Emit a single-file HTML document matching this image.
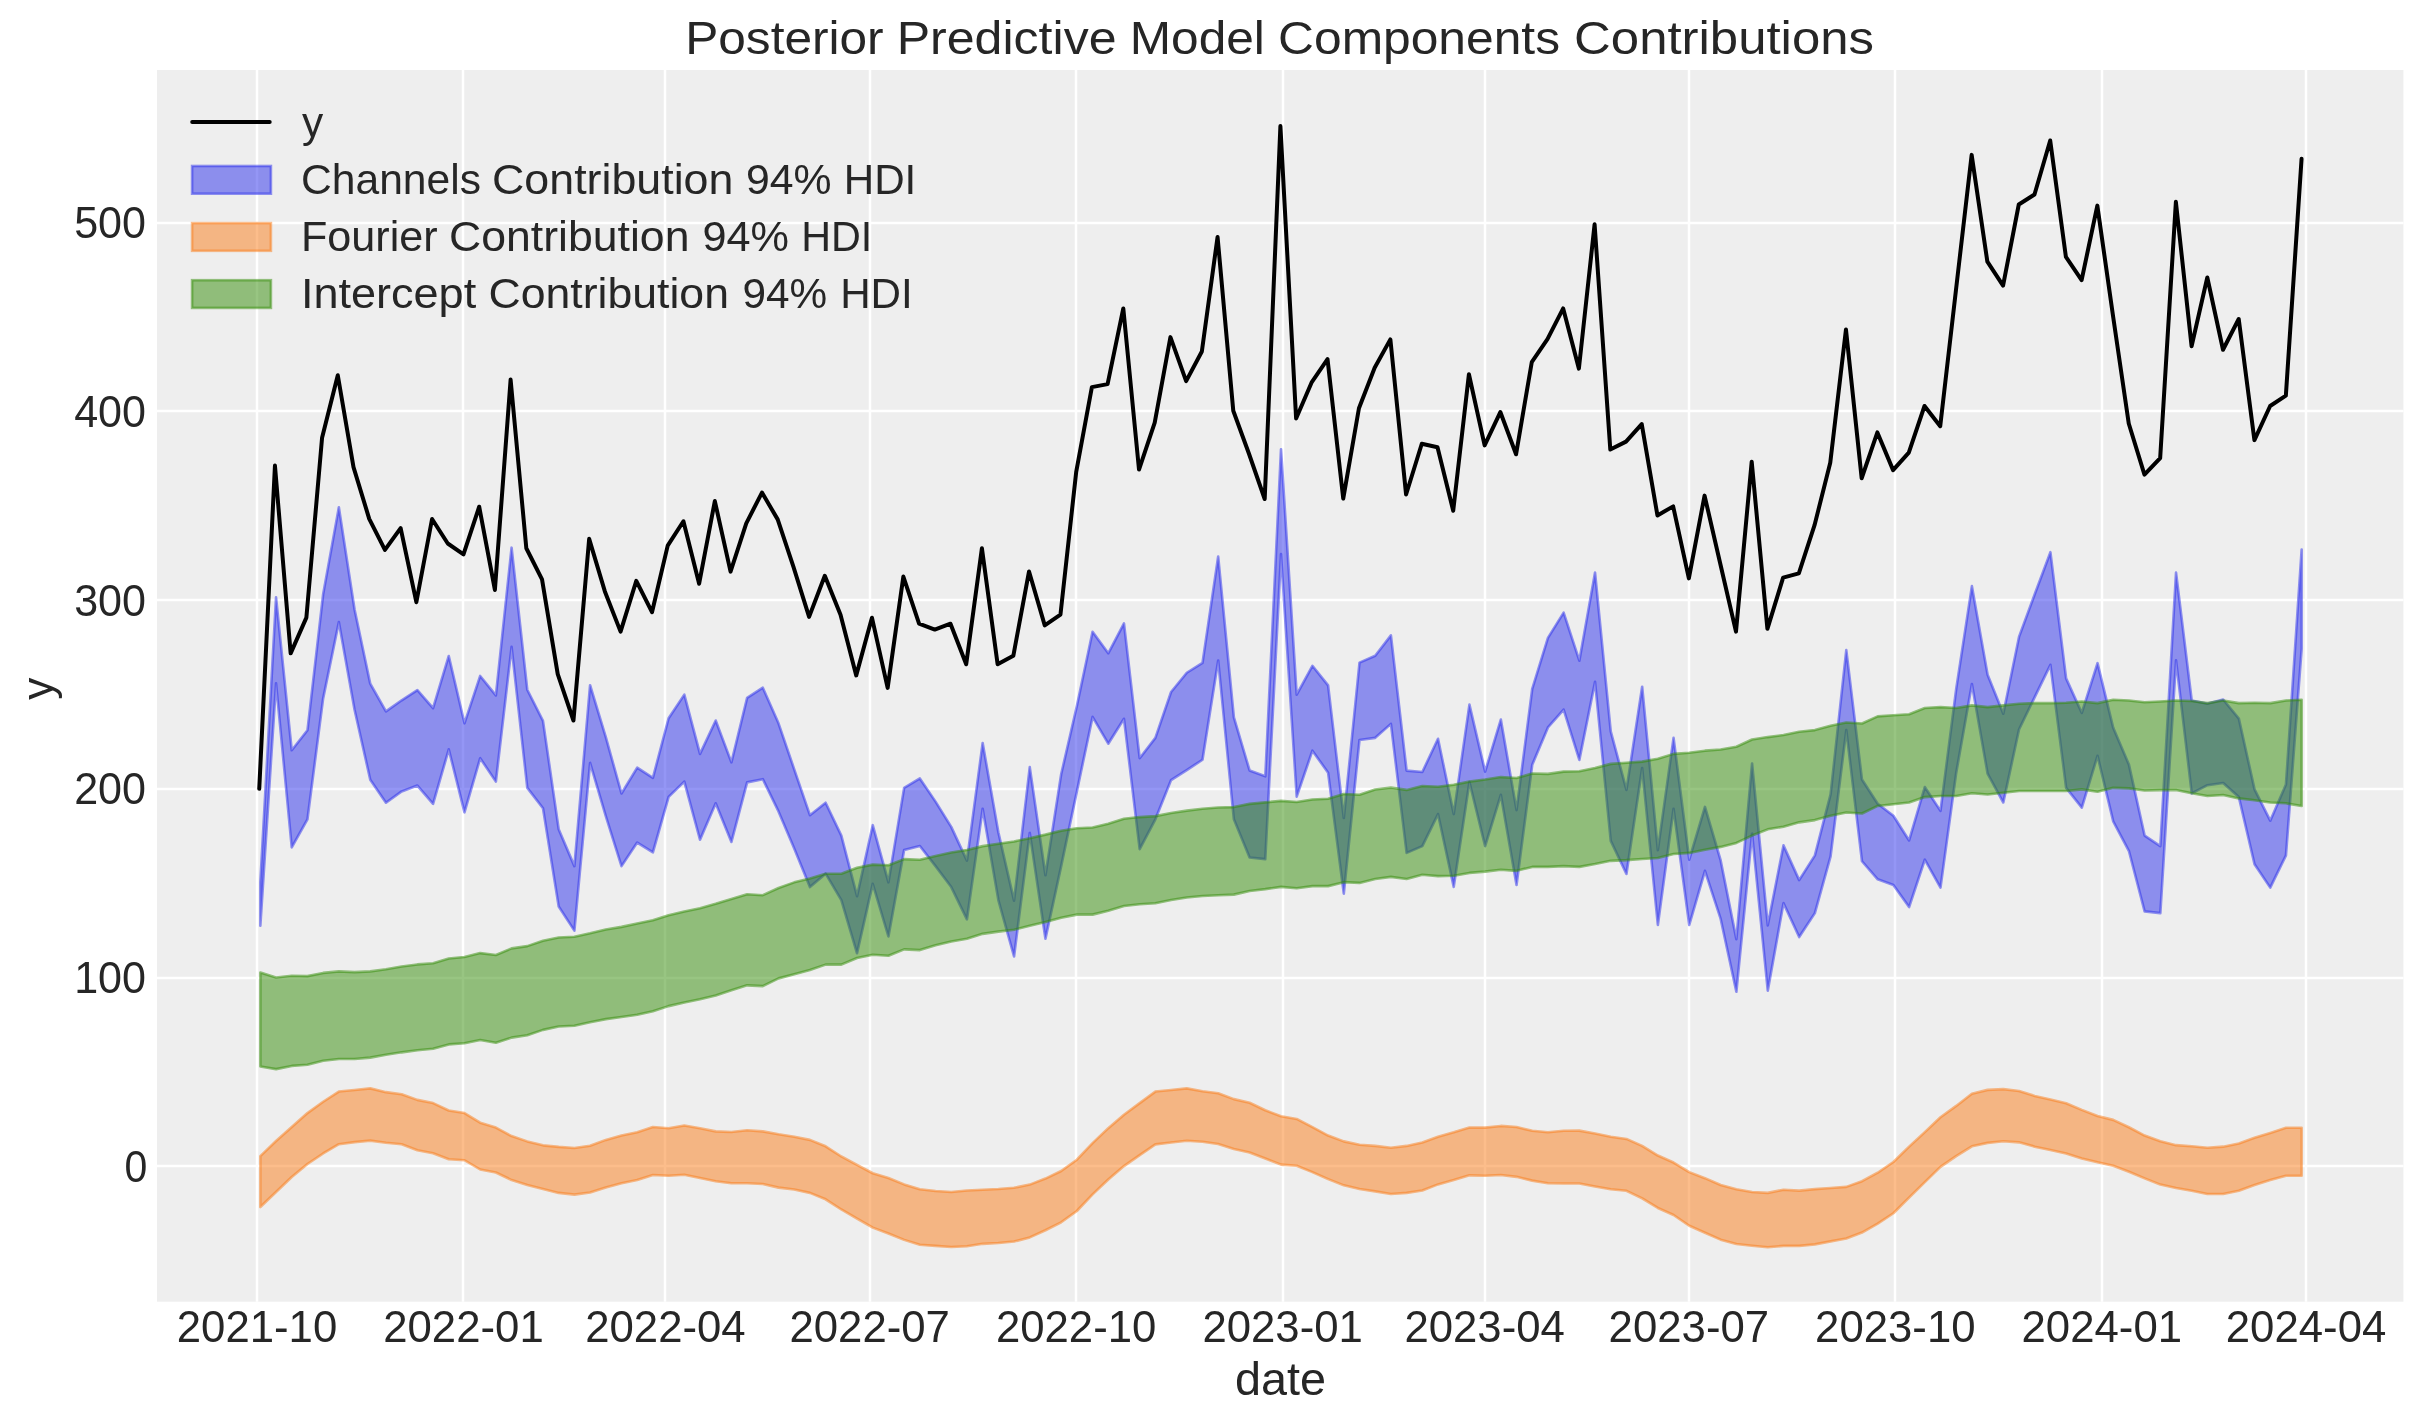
<!DOCTYPE html>
<html><head><meta charset="utf-8"><style>
html,body{margin:0;padding:0;background:#fff;}
svg{display:block;will-change:transform;}
text{font-family:"Liberation Sans", sans-serif;fill:#262626;}
</style></head><body>
<svg width="2423" height="1423" viewBox="0 0 2423 1423">
<rect x="0" y="0" width="2423" height="1423" fill="#ffffff"/>
<rect x="157.0" y="70.0" width="2246.4" height="1231.7" fill="#eeeeee"/>
<g stroke="#ffffff" stroke-width="2.5" fill="none">
<line x1="257" y1="70.0" x2="257" y2="1301.7"/>
<line x1="463" y1="70.0" x2="463" y2="1301.7"/>
<line x1="665" y1="70.0" x2="665" y2="1301.7"/>
<line x1="870" y1="70.0" x2="870" y2="1301.7"/>
<line x1="1076" y1="70.0" x2="1076" y2="1301.7"/>
<line x1="1283" y1="70.0" x2="1283" y2="1301.7"/>
<line x1="1485" y1="70.0" x2="1485" y2="1301.7"/>
<line x1="1689" y1="70.0" x2="1689" y2="1301.7"/>
<line x1="1895" y1="70.0" x2="1895" y2="1301.7"/>
<line x1="2102" y1="70.0" x2="2102" y2="1301.7"/>
<line x1="2306" y1="70.0" x2="2306" y2="1301.7"/>
<line x1="157.0" y1="1166" x2="2403.4" y2="1166"/>
<line x1="157.0" y1="978" x2="2403.4" y2="978"/>
<line x1="157.0" y1="789" x2="2403.4" y2="789"/>
<line x1="157.0" y1="600" x2="2403.4" y2="600"/>
<line x1="157.0" y1="411" x2="2403.4" y2="411"/>
<line x1="157.0" y1="223" x2="2403.4" y2="223"/>
</g>
<polyline points="259.24,788.78 274.95,465.61 290.66,653.32 306.37,617.67 322.08,437.68 337.79,375.24 353.5,467.11 369.22,518.81 384.93,549.94 400.64,528.05 416.35,602.2 432.06,519 447.77,543.52 463.48,554.28 479.19,506.73 494.9,589.93 510.61,379.58 526.32,548.24 542.03,579.37 557.74,674.07 573.45,720.49 589.16,538.81 604.87,591.44 620.58,631.63 636.29,580.88 652,612.19 667.71,545.6 683.42,521.26 699.13,583.71 714.84,501.07 730.55,571.63 746.26,523.34 761.97,492.58 777.68,519.37 793.39,566.73 809.1,616.91 824.81,575.78 840.52,614.65 856.23,675.4 871.94,617.67 887.65,687.85 903.36,576.54 919.07,623.7 934.78,629.55 950.49,623.7 966.2,664.26 981.91,548.24 997.62,664.26 1013.33,655.77 1029.04,571.44 1044.75,625.4 1060.46,614.65 1076.17,472.21 1091.88,387.12 1107.59,384.1 1123.3,308.45 1139.01,469.57 1154.72,422.59 1170.43,337.13 1186.14,381.09 1201.85,351.47 1217.56,236.95 1233.27,410.71 1248.98,453.72 1264.69,499 1280.4,126.02 1296.11,418.44 1311.82,382.03 1327.53,359.2 1343.24,498.62 1358.95,408.25 1374.66,367.69 1390.37,339.39 1406.08,494.47 1421.79,443.72 1437.5,447.31 1453.21,510.7 1468.92,374.29 1484.63,445.42 1500.34,412.03 1516.05,454.29 1531.76,362.22 1547.47,339.2 1563.18,308.45 1578.89,368.63 1594.6,224.31 1610.31,449.57 1626.02,441.65 1641.73,424.1 1657.44,515.41 1673.15,506.36 1688.86,578.42 1704.57,495.6 1720.28,563.71 1735.99,631.63 1751.7,461.64 1767.41,628.8 1783.12,577.67 1798.83,573.33 1814.54,525.22 1830.25,462.78 1845.96,329.58 1861.67,478.25 1877.38,432.4 1893.09,470.13 1908.8,452.59 1924.51,405.99 1940.22,426.18 1955.94,290.34 1971.65,154.88 1987.36,261.66 2003.07,285.62 2018.78,204.5 2034.49,194.5 2050.2,140.54 2065.91,256.95 2081.62,280.15 2097.33,205.63 2113.04,316 2128.75,423.53 2144.46,474.66 2160.17,458.06 2175.88,201.86 2191.59,346.18 2207.3,277.51 2223.01,349.77 2238.72,319.02 2254.43,440.14 2270.14,405.99 2285.85,395.61 2301.56,158.84" fill="none" stroke="#000000" stroke-width="4" stroke-linejoin="round" stroke-linecap="round"/>
<polygon points="260.34,882.36 276.05,597.29 291.75,750.29 307.45,730.3 323.15,594.27 338.86,507.3 354.56,609.55 370.26,683.7 385.96,711.43 401.67,700.3 417.37,690.11 433.07,708.22 448.77,655.96 464.48,723.31 480.18,675.96 495.88,695.39 511.58,547.67 527.29,689.73 542.99,720.86 558.69,829.15 574.39,866.13 590.09,685.21 605.8,737.09 621.5,793.5 637.2,767.65 652.9,777.84 668.61,718.22 684.31,694.64 700.01,753.88 715.71,720.49 731.42,762.37 747.12,697.85 762.82,687.66 778.52,723.31 794.23,769.35 809.93,815.19 825.63,802.74 841.33,835.57 857.04,896.13 872.74,825.19 888.44,882.36 904.14,787.84 919.85,778.4 935.55,801.61 951.25,826.89 966.95,860.66 982.66,742.94 998.36,832.17 1014.06,900.66 1029.76,767.08 1045.46,875.19 1061.17,774.25 1076.87,705.96 1092.57,631.81 1108.27,653.32 1123.98,623.33 1139.68,758.22 1155.38,737.84 1171.08,692 1186.79,672.75 1202.49,662.94 1218.19,556.54 1233.89,717.28 1249.6,770.48 1265.3,776.33 1281,449.19 1296.7,694.64 1312.41,665.77 1328.11,685.39 1343.81,818.02 1359.51,662.57 1375.22,655.77 1390.92,635.4 1406.62,770.67 1422.32,771.99 1438.02,738.79 1453.73,814.06 1469.43,704.64 1485.13,771.61 1500.83,719.54 1516.54,810.1 1532.24,688.79 1547.94,637.85 1563.64,612.57 1579.35,660.68 1595.05,572.58 1610.75,731.43 1626.45,789.91 1642.16,686.71 1657.86,850.09 1673.56,737.84 1689.26,859.72 1704.97,806.89 1720.67,860.47 1736.37,939.14 1752.07,763.5 1767.78,925.37 1783.48,845.38 1799.18,880.09 1814.88,855.38 1830.59,794.44 1846.29,650.11 1861.99,779.54 1877.69,803.68 1893.39,815.76 1909.1,840.47 1924.8,787.08 1940.5,810.85 1956.2,688.98 1971.91,586.16 1987.61,674.83 2003.31,713.69 2019.01,636.91 2034.72,594.27 2050.42,552.2 2066.12,678.41 2081.82,712.94 2097.53,663.13 2113.23,727.84 2128.93,764.63 2144.63,835.57 2160.34,846.13 2176.04,572.58 2191.74,700.49 2207.44,703.69 2223.15,699.54 2238.85,718.6 2254.55,789.35 2270.25,820.66 2285.95,784.44 2301.66,549.56 2301.66,648.79 2285.95,855.38 2270.25,887.64 2254.55,864.24 2238.85,797.08 2223.15,782.93 2207.44,785.2 2191.74,793.31 2176.04,660.3 2160.34,913.11 2144.63,911.41 2128.93,851.04 2113.23,821.42 2097.53,755.76 2081.82,807.65 2066.12,787.84 2050.42,664.83 2034.72,697.09 2019.01,729.54 2003.31,802.55 1987.61,773.69 1971.91,684.07 1956.2,772.93 1940.5,887.64 1924.8,859.72 1909.1,907.07 1893.39,885 1877.69,879.34 1861.99,861.23 1846.29,730.11 1830.59,856.32 1814.88,913.11 1799.18,937.07 1783.48,903.11 1767.78,990.65 1752.07,833.68 1736.37,991.78 1720.67,918.96 1704.97,870.85 1689.26,924.99 1673.56,808.78 1657.86,924.99 1642.16,768.03 1626.45,874.05 1610.75,840.85 1595.05,681.81 1579.35,759.92 1563.64,709.54 1547.94,727.47 1532.24,764.82 1516.54,885 1500.83,794.82 1485.13,846.13 1469.43,781.99 1453.73,886.88 1438.02,814.06 1422.32,846.13 1406.62,852.92 1390.92,723.88 1375.22,737.84 1359.51,739.92 1343.81,893.67 1328.11,772.74 1312.41,750.67 1296.7,796.7 1281,554.09 1265.3,859.15 1249.6,857.45 1233.89,819.34 1218.19,660.49 1202.49,759.73 1186.79,770.1 1171.08,780.1 1155.38,819.34 1139.68,849.15 1123.98,718.79 1108.27,743.69 1092.57,716.9 1076.87,791.42 1061.17,866.13 1045.46,938.76 1029.76,832.93 1014.06,956.5 998.36,900.09 982.66,808.78 966.95,919.33 951.25,887.07 935.55,866.13 919.85,845.94 904.14,850.09 888.44,936.5 872.74,883.86 857.04,953.29 841.33,900.09 825.63,873.68 809.93,887.07 794.23,848.4 778.52,811.42 762.82,779.16 747.12,782.37 731.42,841.98 715.71,803.31 700.01,839.72 684.31,781.61 668.61,796.89 652.9,852.36 637.2,842.55 621.5,866.13 605.8,816.14 590.09,762.93 574.39,930.65 558.69,906.5 542.99,808.21 527.29,787.84 511.58,646.91 495.88,781.61 480.18,758.22 464.48,812.36 448.77,749.35 433.07,803.87 417.37,785.57 401.67,791.42 385.96,802.74 370.26,779.72 354.56,709.73 338.86,622 323.15,698.41 307.45,819.34 291.75,847.45 276.05,683.32 260.34,925.75" fill="#2a2eec" fill-opacity="0.5" stroke="#2a2eec" stroke-opacity="0.5" stroke-width="2.6" stroke-linejoin="round"/>
<polygon points="260.34,1156.1 276.05,1141.01 291.75,1127.05 307.45,1113.09 323.15,1101.77 338.86,1091.58 354.56,1090.07 370.26,1088.37 385.96,1092.15 401.67,1094.22 417.37,1099.88 433.07,1103.09 448.77,1110.45 464.48,1113.09 480.18,1122.71 495.88,1127.61 511.58,1136.1 527.29,1141.39 542.99,1145.35 558.69,1146.86 574.39,1147.99 590.09,1145.72 605.8,1139.88 621.5,1135.54 637.2,1132.33 652.9,1127.05 668.61,1128.18 684.31,1125.54 700.01,1128.18 715.71,1131.39 731.42,1131.95 747.12,1130.25 762.82,1131.39 778.52,1134.22 794.23,1136.67 809.93,1139.88 825.63,1146.29 841.33,1156.48 857.04,1164.97 872.74,1173.27 888.44,1177.99 904.14,1184.4 919.85,1189.31 935.55,1191 951.25,1191.95 966.95,1190.44 982.66,1189.68 998.36,1188.93 1014.06,1187.8 1029.76,1184.59 1045.46,1178.55 1061.17,1171.01 1076.87,1159.69 1092.57,1143.08 1108.27,1128.18 1123.98,1114.78 1139.68,1103.09 1155.38,1091.58 1171.08,1090.07 1186.79,1088.37 1202.49,1091.2 1218.19,1093.28 1233.89,1099.13 1249.6,1102.71 1265.3,1110.26 1281,1116.29 1296.7,1118.93 1312.41,1127.05 1328.11,1135.54 1343.81,1141.39 1359.51,1144.78 1375.22,1145.91 1390.92,1147.8 1406.62,1145.91 1422.32,1142.52 1438.02,1136.67 1453.73,1132.33 1469.43,1127.61 1485.13,1127.61 1500.83,1125.92 1516.54,1127.05 1532.24,1130.82 1547.94,1132.33 1563.64,1130.82 1579.35,1130.63 1595.05,1133.46 1610.75,1136.67 1626.45,1138.93 1642.16,1145.91 1657.86,1155.54 1673.56,1162.52 1689.26,1172.14 1704.97,1178.17 1720.67,1184.97 1736.37,1189.31 1752.07,1191.95 1767.78,1192.89 1783.48,1189.68 1799.18,1190.63 1814.88,1189.12 1830.59,1187.98 1846.29,1186.85 1861.99,1181.19 1877.69,1172.7 1893.39,1161.95 1909.1,1146.67 1924.8,1132.14 1940.5,1117.24 1956.2,1105.92 1971.91,1093.84 1987.61,1089.88 2003.31,1089.13 2019.01,1091.01 2034.72,1095.92 2050.42,1099.5 2066.12,1103.28 2081.82,1109.88 2097.53,1115.92 2113.23,1119.88 2128.93,1127.24 2144.63,1135.54 2160.34,1141.2 2176.04,1145.16 2191.74,1146.29 2207.44,1147.8 2223.15,1146.67 2238.85,1143.46 2254.55,1137.8 2270.25,1132.9 2285.95,1127.8 2301.66,1127.8 2301.66,1175.72 2285.95,1175.72 2270.25,1180.06 2254.55,1184.97 2238.85,1190.81 2223.15,1194.02 2207.44,1194.02 2191.74,1190.81 2176.04,1187.98 2160.34,1184.59 2144.63,1178.36 2128.93,1171.76 2113.23,1165.72 2097.53,1162.33 2081.82,1158.55 2066.12,1153.46 2050.42,1150.06 2034.72,1146.67 2019.01,1142.33 2003.31,1141.2 1987.61,1142.89 1971.91,1146.29 1956.2,1156.1 1940.5,1166.85 1924.8,1182.14 1909.1,1197.61 1893.39,1213.26 1877.69,1223.64 1861.99,1232.51 1846.29,1238.55 1830.59,1241.38 1814.88,1244.39 1799.18,1245.9 1783.48,1245.9 1767.78,1247.22 1752.07,1245.71 1736.37,1244.02 1720.67,1239.68 1704.97,1232.7 1689.26,1225.72 1673.56,1214.96 1657.86,1207.98 1642.16,1198.36 1626.45,1190.81 1610.75,1189.31 1595.05,1186.48 1579.35,1183.46 1563.64,1183.46 1547.94,1183.27 1532.24,1180.63 1516.54,1176.85 1500.83,1174.97 1485.13,1175.72 1469.43,1175.34 1453.73,1180.06 1438.02,1184.4 1422.32,1190.44 1406.62,1192.89 1390.92,1194.02 1375.22,1191.38 1359.51,1188.93 1343.81,1185.34 1328.11,1179.12 1312.41,1172.14 1296.7,1165.72 1281,1164.59 1265.3,1158.55 1249.6,1152.52 1233.89,1148.93 1218.19,1144.03 1202.49,1141.76 1186.79,1140.82 1171.08,1142.52 1155.38,1144.4 1139.68,1155.16 1123.98,1166.1 1108.27,1179.49 1092.57,1194.4 1076.87,1211 1061.17,1222.32 1045.46,1230.24 1029.76,1237.41 1014.06,1241.56 998.36,1243.07 982.66,1243.83 966.95,1246.28 951.25,1247.04 935.55,1245.9 919.85,1244.77 904.14,1239.87 888.44,1233.45 872.74,1227.6 857.04,1218.55 841.33,1209.49 825.63,1199.3 809.93,1192.89 794.23,1189.49 778.52,1187.61 762.82,1184.02 747.12,1183.27 731.42,1183.27 715.71,1181.19 700.01,1177.99 684.31,1174.78 668.61,1175.72 652.9,1174.97 637.2,1180.06 621.5,1183.27 605.8,1187.61 590.09,1192.51 574.39,1194.59 558.69,1192.89 542.99,1188.93 527.29,1184.97 511.58,1180.06 495.88,1172.51 480.18,1169.5 464.48,1160.25 448.77,1159.31 433.07,1153.27 417.37,1150.25 401.67,1144.22 385.96,1142.71 370.26,1140.63 354.56,1142.14 338.86,1144.22 323.15,1153.46 307.45,1164.02 291.75,1177.04 276.05,1191.95 260.34,1207.04" fill="#fa7c17" fill-opacity="0.5" stroke="#fa7c17" stroke-opacity="0.5" stroke-width="2.6" stroke-linejoin="round"/>
<polygon points="260.34,972.53 276.05,977.44 291.75,975.74 307.45,976.12 323.15,972.91 338.86,971.4 354.56,972.16 370.26,971.4 385.96,969.33 401.67,966.5 417.37,964.42 433.07,963.29 448.77,958.57 464.48,957.06 480.18,953.1 495.88,954.99 511.58,948.39 527.29,946.12 542.99,940.65 558.69,937.44 574.39,936.69 590.09,933.29 605.8,929.52 621.5,926.88 637.2,923.48 652.9,920.28 668.61,915.18 684.31,911.41 700.01,908.2 715.71,903.86 731.42,898.96 747.12,894.24 762.82,895.18 778.52,888.02 794.23,882.36 809.93,878.39 825.63,873.68 841.33,873.68 857.04,867.83 872.74,864.62 888.44,865.19 904.14,859.15 919.85,859.72 935.55,855.94 951.25,852.55 966.95,850.09 982.66,846.13 998.36,843.68 1014.06,841.42 1029.76,838.21 1045.46,834.62 1061.17,830.66 1076.87,828.21 1092.57,827.46 1108.27,823.68 1123.98,818.78 1139.68,817.08 1155.38,816.14 1171.08,812.93 1186.79,810.66 1202.49,808.78 1218.19,807.46 1233.89,807.08 1249.6,803.87 1265.3,802.36 1281,800.85 1296.7,801.99 1312.41,799.53 1328.11,798.78 1343.81,794.06 1359.51,794.82 1375.22,789.53 1390.92,787.65 1406.62,789.91 1422.32,785.95 1438.02,786.7 1453.73,784.82 1469.43,781.61 1485.13,779.54 1500.83,777.08 1516.54,778.03 1532.24,773.5 1547.94,773.88 1563.64,771.61 1579.35,771.23 1595.05,768.03 1610.75,763.88 1626.45,762.74 1642.16,761.61 1657.86,758.78 1673.56,753.88 1689.26,752.75 1704.97,750.67 1720.67,749.54 1736.37,746.71 1752.07,739.54 1767.78,737.09 1783.48,735.01 1799.18,731.8 1814.88,730.11 1830.59,725.77 1846.29,722.56 1861.99,723.5 1877.69,716.33 1893.39,715.2 1909.1,714.26 1924.8,708.03 1940.5,707.09 1956.2,708.03 1971.91,705.39 1987.61,707.09 2003.31,705.39 2019.01,703.69 2034.72,703.13 2050.42,703.13 2066.12,702.75 2081.82,701.43 2097.53,703.13 2113.23,699.73 2128.93,700.49 2144.63,702.19 2160.34,701.43 2176.04,700.49 2191.74,701.05 2207.44,703.13 2223.15,700.49 2238.85,703.13 2254.55,702.75 2270.25,703.13 2285.95,700.49 2301.66,699.73 2301.66,805.95 2285.95,803.31 2270.25,802.55 2254.55,800.29 2238.85,798.4 2223.15,795.01 2207.44,795.95 2191.74,793.31 2176.04,790.1 2160.34,790.1 2144.63,790.48 2128.93,788.4 2113.23,787.84 2097.53,791.8 2081.82,789.35 2066.12,791.04 2050.42,791.04 2034.72,791.04 2019.01,791.04 2003.31,792.74 1987.61,794.44 1971.91,793.31 1956.2,795.95 1940.5,795.95 1924.8,797.08 1909.1,802.55 1893.39,804.25 1877.69,805.95 1861.99,813.49 1846.29,812.55 1830.59,815.76 1814.88,820.1 1799.18,822.36 1783.48,826.7 1767.78,829.34 1752.07,835.57 1736.37,842.93 1720.67,846.89 1704.97,849.72 1689.26,852.92 1673.56,854.06 1657.86,858.02 1642.16,858.96 1626.45,860.09 1610.75,860.85 1595.05,864.06 1579.35,866.89 1563.64,866.13 1547.94,866.89 1532.24,866.89 1516.54,870.85 1500.83,869.72 1485.13,871.6 1469.43,872.92 1453.73,875.75 1438.02,876.13 1422.32,874.81 1406.62,878.96 1390.92,876.88 1375.22,878.96 1359.51,882.92 1343.81,882.17 1328.11,886.13 1312.41,886.13 1296.7,888.2 1281,886.88 1265.3,889.15 1249.6,891.03 1233.89,894.62 1218.19,895.18 1202.49,895.94 1186.79,897.45 1171.08,900.09 1155.38,903.3 1139.68,904.24 1123.98,905.94 1108.27,910.65 1092.57,914.62 1076.87,914.62 1061.17,917.82 1045.46,921.97 1029.76,925.75 1014.06,929.71 998.36,931.6 982.66,933.86 966.95,938.76 951.25,941.41 935.55,945.18 919.85,950.08 904.14,949.33 888.44,955.74 872.74,954.8 857.04,958.01 841.33,964.61 825.63,964.61 809.93,970.08 794.23,974.23 778.52,978.38 762.82,986.12 747.12,985.36 731.42,990.27 715.71,995.55 700.01,999.32 684.31,1002.53 668.61,1006.12 652.9,1011.21 637.2,1014.79 621.5,1017.06 605.8,1019.13 590.09,1022.34 574.39,1025.74 558.69,1026.49 542.99,1029.89 527.29,1035.17 511.58,1037.62 495.88,1042.72 480.18,1040.08 464.48,1043.28 448.77,1044.41 433.07,1048.75 417.37,1050.26 401.67,1052.34 385.96,1054.79 370.26,1057.62 354.56,1058.94 338.86,1058.94 323.15,1060.83 307.45,1064.79 291.75,1065.92 276.05,1069.13 260.34,1066.49" fill="#328c06" fill-opacity="0.5" stroke="#328c06" stroke-opacity="0.5" stroke-width="2.6" stroke-linejoin="round"/>
<line x1="192.2" y1="122" x2="269.7" y2="122" stroke="#000" stroke-width="4" stroke-linecap="round"/>
<rect x="192.1" y="166" width="78.8" height="27.7" fill="#2a2eec" fill-opacity="0.5" stroke="#2a2eec" stroke-opacity="0.5" stroke-width="2.6"/>
<rect x="192.1" y="223.1" width="78.8" height="27.7" fill="#fa7c17" fill-opacity="0.5" stroke="#fa7c17" stroke-opacity="0.5" stroke-width="2.6"/>
<rect x="192.1" y="280.2" width="78.8" height="27.7" fill="#328c06" fill-opacity="0.5" stroke="#328c06" stroke-opacity="0.5" stroke-width="2.6"/>
<text x="685.22" y="54" font-size="46" text-anchor="start" textLength="198.42" lengthAdjust="spacingAndGlyphs">Posterior</text>
<text x="896.72" y="54" font-size="46" text-anchor="start" textLength="219.8" lengthAdjust="spacingAndGlyphs">Predictive</text>
<text x="1129.78" y="54" font-size="46" text-anchor="start" textLength="135.04" lengthAdjust="spacingAndGlyphs">Model</text>
<text x="1278.08" y="54" font-size="46" text-anchor="start" textLength="281.92" lengthAdjust="spacingAndGlyphs">Components</text>
<text x="1574.06" y="54" font-size="46" text-anchor="start" textLength="299.98" lengthAdjust="spacingAndGlyphs">Contributions</text>
<text x="302" y="137" font-size="42.4" text-anchor="start">y</text>
<text x="300.98" y="194.3" font-size="42.4" text-anchor="start" textLength="180.02" lengthAdjust="spacingAndGlyphs">Channels</text>
<text x="492.06" y="194.3" font-size="42.4" text-anchor="start" textLength="241.34" lengthAdjust="spacingAndGlyphs">Contribution</text>
<text x="746" y="194.3" font-size="42.4" text-anchor="start" textLength="85.54" lengthAdjust="spacingAndGlyphs">94%</text>
<text x="843.7" y="194.3" font-size="42.4" text-anchor="start" textLength="72.6" lengthAdjust="spacingAndGlyphs">HDI</text>
<text x="300.94" y="251" font-size="42.4" text-anchor="start" textLength="136.66" lengthAdjust="spacingAndGlyphs">Fourier</text>
<text x="449" y="251" font-size="42.4" text-anchor="start" textLength="240.44" lengthAdjust="spacingAndGlyphs">Contribution</text>
<text x="702.5" y="251" font-size="42.4" text-anchor="start" textLength="86.5" lengthAdjust="spacingAndGlyphs">94%</text>
<text x="801.16" y="251" font-size="42.4" text-anchor="start" textLength="71.12" lengthAdjust="spacingAndGlyphs">HDI</text>
<text x="300.94" y="308" font-size="42.4" text-anchor="start" textLength="175.23" lengthAdjust="spacingAndGlyphs">Intercept</text>
<text x="488.52" y="308" font-size="42.4" text-anchor="start" textLength="240.44" lengthAdjust="spacingAndGlyphs">Contribution</text>
<text x="742.46" y="308" font-size="42.4" text-anchor="start" textLength="84.64" lengthAdjust="spacingAndGlyphs">94%</text>
<text x="840.16" y="308" font-size="42.4" text-anchor="start" textLength="72.6" lengthAdjust="spacingAndGlyphs">HDI</text>
<text x="147.2" y="1181.6" font-size="43.5" text-anchor="end" textLength="22.8" lengthAdjust="spacingAndGlyphs">0</text>
<text x="146" y="992.94" font-size="43.5" text-anchor="end" textLength="71.87" lengthAdjust="spacingAndGlyphs">100</text>
<text x="146" y="804.28" font-size="43.5" text-anchor="end" textLength="71.87" lengthAdjust="spacingAndGlyphs">200</text>
<text x="146" y="615.62" font-size="43.5" text-anchor="end" textLength="71.87" lengthAdjust="spacingAndGlyphs">300</text>
<text x="146" y="426.96" font-size="43.5" text-anchor="end" textLength="71.87" lengthAdjust="spacingAndGlyphs">400</text>
<text x="146" y="238.3" font-size="43.5" text-anchor="end" textLength="71.87" lengthAdjust="spacingAndGlyphs">500</text>
<text x="257" y="1342" font-size="43.5" text-anchor="middle" textLength="160.5" lengthAdjust="spacingAndGlyphs">2021-10</text>
<text x="463.48" y="1342" font-size="43.5" text-anchor="middle" textLength="160.5" lengthAdjust="spacingAndGlyphs">2022-01</text>
<text x="665.46" y="1342" font-size="43.5" text-anchor="middle" textLength="160.5" lengthAdjust="spacingAndGlyphs">2022-04</text>
<text x="869.69" y="1342" font-size="43.5" text-anchor="middle" textLength="160.5" lengthAdjust="spacingAndGlyphs">2022-07</text>
<text x="1076.17" y="1342" font-size="43.5" text-anchor="middle" textLength="160.5" lengthAdjust="spacingAndGlyphs">2022-10</text>
<text x="1282.65" y="1342" font-size="43.5" text-anchor="middle" textLength="160.5" lengthAdjust="spacingAndGlyphs">2023-01</text>
<text x="1484.63" y="1342" font-size="43.5" text-anchor="middle" textLength="160.5" lengthAdjust="spacingAndGlyphs">2023-04</text>
<text x="1688.86" y="1342" font-size="43.5" text-anchor="middle" textLength="160.5" lengthAdjust="spacingAndGlyphs">2023-07</text>
<text x="1895.34" y="1342" font-size="43.5" text-anchor="middle" textLength="160.5" lengthAdjust="spacingAndGlyphs">2023-10</text>
<text x="2101.81" y="1342" font-size="43.5" text-anchor="middle" textLength="160.5" lengthAdjust="spacingAndGlyphs">2024-01</text>
<text x="2306.05" y="1342" font-size="43.5" text-anchor="middle" textLength="160.5" lengthAdjust="spacingAndGlyphs">2024-04</text>
<text x="1280.4" y="1395" font-size="45.8" text-anchor="middle" textLength="91" lengthAdjust="spacingAndGlyphs">date</text>
<text x="0" y="0" font-size="44" text-anchor="middle" transform="translate(53.4,688.8) rotate(-90)">y</text>
</svg></body></html>
